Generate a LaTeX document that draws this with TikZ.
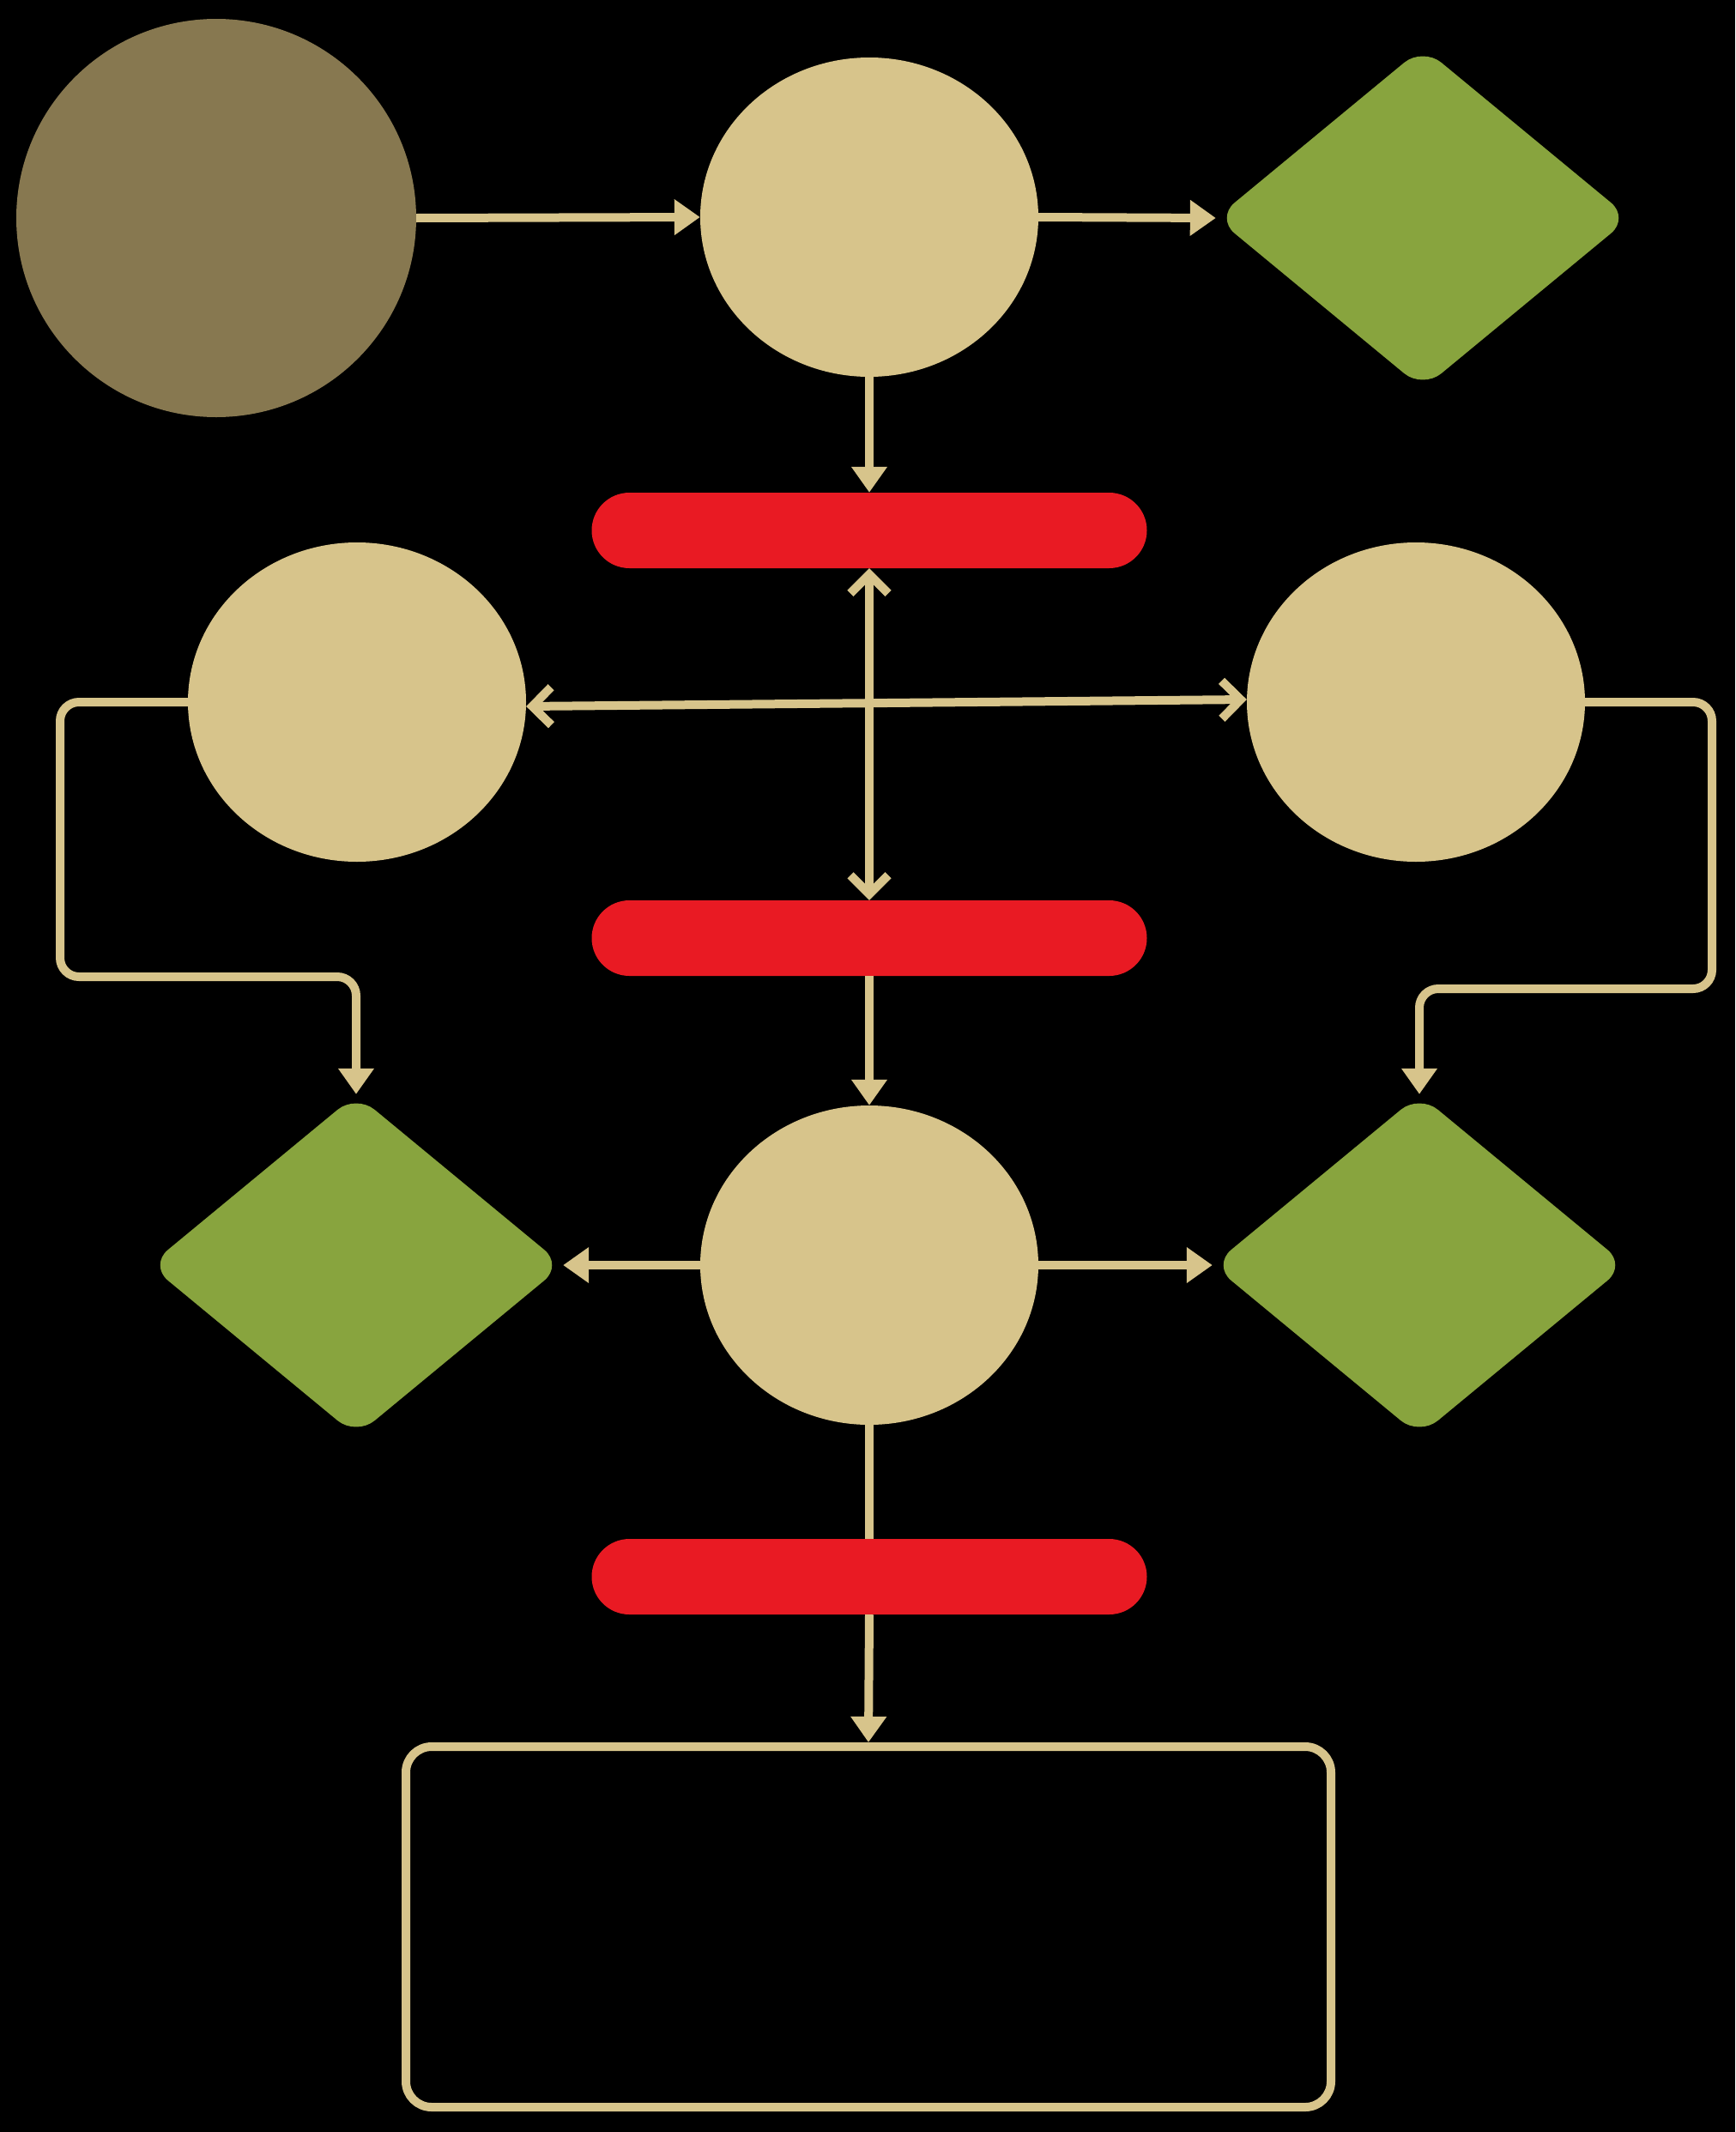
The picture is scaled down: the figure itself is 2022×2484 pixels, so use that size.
\documentclass[tikz,border=0pt]{standalone}
\usepackage{tikz}
\usetikzlibrary{arrows.meta,positioning,shapes.geometric}
\definecolor{initbrown}{RGB}{135,120,80}
\definecolor{statetan}{RGB}{215,196,139}
\definecolor{choicegreen}{RGB}{136,164,62}
\definecolor{barred}{RGB}{233,26,35}

\begin{document}
\begin{tikzpicture}[x=1pt, y=-1pt,
    stnode/.style={ellipse, fill=statetan, inner sep=0pt, minimum width=394pt, minimum height=372pt},
    choice/.style={diamond, fill=choicegreen, rounded corners=28pt, inner sep=0pt, minimum width=482pt, minimum height=398pt},
    forkbar/.style={rectangle, fill=barred, rounded corners=44pt, inner sep=0pt, minimum width=647pt, minimum height=88pt},
    link/.style={draw=statetan, line width=10pt},
    flow/.style={link, -{Triangle[length=30pt, width=40pt, fill=statetan]}},
    twoway/.style={link, line cap=round, {Straight Barb[length=22pt, width=44pt]}-{Straight Barb[length=22pt, width=44pt]}}]
      % page
      \fill[black] (0,0) rectangle (2022,2484);
      \useasboundingbox (0,0) rectangle (2022,2484);
      % top row
      \node[ellipse, fill=initbrown, inner sep=0pt, minimum width=466pt, minimum height=464pt] (init) at (252,254) {};
      \node[stnode] (check) at (1013,253) {};
      \node[choice] (done) at (1658,254) {};
      \node[forkbar] (fork) at (1013,618) {};
      % middle row
      \node[stnode] (leftst) at (416,818) {};
      \node[stnode] (rightst) at (1650,818) {};
      \node[forkbar] (sync) at (1013,1093) {};
      % lower row
      \node[choice] (leftend) at (415,1474) {};
      \node[stnode] (merge) at (1013,1474) {};
      \node[choice] (rightend) at (1654,1474) {};
      \node[forkbar] (join) at (1013,1837) {};
      \node[draw=statetan, line width=10pt, rounded corners=30pt, minimum width=1078pt, minimum height=420pt] (result) at (1012,2245) {};
      % connectors
      \draw[flow] (init.east) -- (check.west);
      \draw[flow] (check.east) -- (done.west);
      \draw[flow] (check.south) -- (fork.north);
      \draw[twoway] (fork.south) -- (sync.north);
      \draw[twoway] ([yshift=-5pt]leftst.east) -- ([yshift=3pt]rightst.west);
      \draw[flow, rounded corners=22pt] (leftst.west) -| (70,1138) -| (leftend.north);
      \draw[flow, rounded corners=22pt] (rightst.east) -| (1995,1152) -| (rightend.north);
      \draw[flow] (sync.south) -- (merge.north);
      \draw[flow] (merge.west) -- (leftend.east);
      \draw[flow] (merge.east) -- (rightend.west);
      \draw[link] (merge.south) -- (join.north);
      \draw[flow] (join.south) -- (result.north);
    \end{tikzpicture}
\end{document}
